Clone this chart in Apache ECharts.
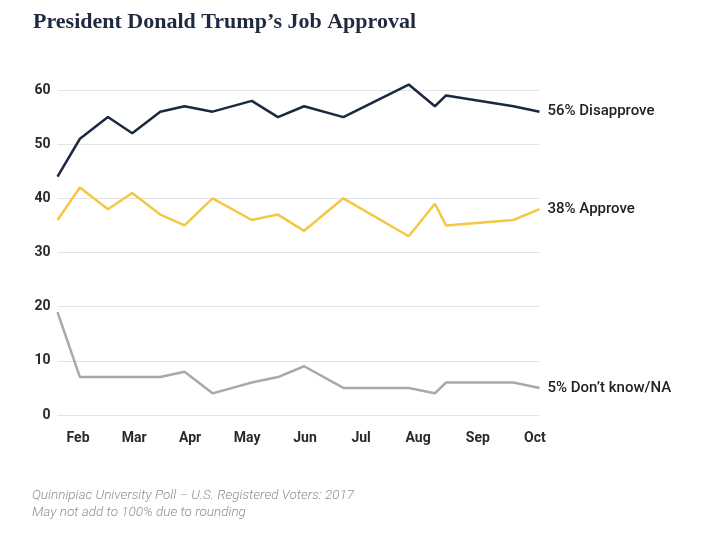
<!DOCTYPE html>
<html>
<head>
<meta charset="utf-8">
<script src="https://cdn.jsdelivr.net/npm/echarts@6/dist/echarts.min.js"></script>
<style>
html,body{margin:0;padding:0;background:#fff;}
#c{width:706px;height:536px;}
</style>
</head>
<body>
<div id="c"></div>
<script>
// Poll dates (day of year, 2017)
const pollDays = [26, 38, 53, 66, 81, 94, 109, 130, 144, 158, 179, 214, 228, 234, 270, 284];
const disapprove = [44, 51, 55, 52, 56, 57, 56, 58, 55, 57, 55, 61, 57, 59, 57, 56];
const approve = [36, 42, 38, 41, 37, 35, 40, 36, 37, 34, 40, 33, 39, 35, 36, 38];
const dontKnow = [19, 7, 7, 7, 7, 8, 4, 6, 7, 9, 5, 5, 4, 6, 6, 5];
const monthTicks = [37, 67, 97, 127.5, 158.5, 188.5, 219, 251, 281.5];
const monthLabels = ['Feb', 'Mar', 'Apr', 'May', 'Jun', 'Jul', 'Aug', 'Sep', 'Oct'];
const seriesNames = ['Disapprove', 'Approve', "Don\u2019t know/NA"];
const titleText = 'President Donald Trump\u2019s Job Approval';
const noteText = 'Quinnipiac University Poll \u2013 U.S. Registered Voters: 2017\nMay not add to 100% due to rounding';

const zip = arr => pollDays.map((d, i) => [d, arr[i]]);
const colors = ['#1b2840', '#f3c845', '#a9a9a9'];
const values = [disapprove, approve, dontKnow];

const chart = echarts.init(document.getElementById('c'), null, {renderer: 'canvas'});
chart.setOption({
  animation: false,
  backgroundColor: '#fff',
  title: [
    {
      text: titleText, left: 28, top: 6,
      textStyle: {fontFamily: 'Liberation Serif', fontSize: 22, fontWeight: 'bold', color: '#1e2a40'}
    },
    {
      text: noteText, left: 27, top: 482,
      textStyle: {fontFamily: 'Roboto', fontStyle: 'italic', fontSize: 13.5, fontWeight: 300, color: '#8f8f8f', lineHeight: 17}
    }
  ],
  grid: {left: 57.5, top: 90, width: 482, height: 325, containLabel: false},
  xAxis: {
    type: 'value', min: 26, max: 284,
    axisLine: {show: false}, axisTick: {show: false}, splitLine: {show: false},
    axisLabel: {
      customValues: monthTicks,
      formatter: v => monthLabels[monthTicks.indexOf(v)] || '',
      margin: 16, fontFamily: 'Roboto', fontSize: 14, fontWeight: 'bold', color: '#2a2a2a'
    }
  },
  yAxis: {
    type: 'value', min: 0, max: 60, interval: 10,
    axisLine: {show: false}, axisTick: {show: false},
    splitLine: {lineStyle: {color: '#e3e3e3', width: 1}},
    axisLabel: {margin: 7, fontFamily: 'Roboto', fontSize: 14, fontWeight: 'bold', color: '#2a2a2a'}
  },
  series: values.map((arr, i) => ({
    name: seriesNames[i],
    type: 'line',
    data: zip(arr),
    symbol: 'none',
    clip: false,
    lineStyle: {color: colors[i], width: 2.5},
    endLabel: {
      show: true,
      distance: 8,
      formatter: p => p.value[1] + '% ' + seriesNames[i],
      fontFamily: 'Roboto', fontSize: 15, fontWeight: 500, color: '#222'
    }
  }))
});
</script>
</body>
</html>
